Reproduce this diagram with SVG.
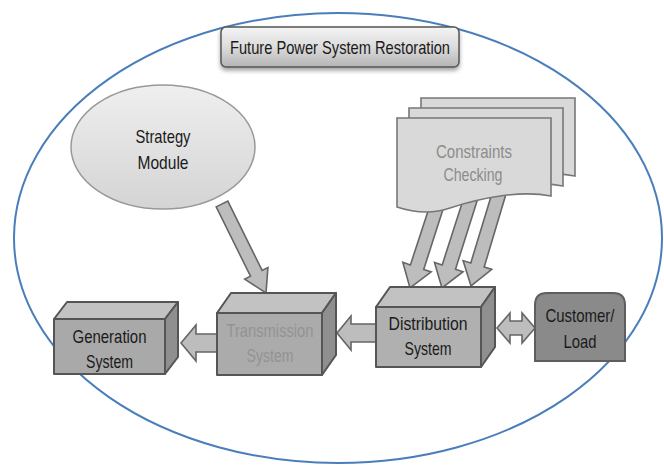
<svg xmlns="http://www.w3.org/2000/svg" width="664" height="467" viewBox="0 0 664 467">
<defs>
<linearGradient id="gTitle" x1="0" y1="0" x2="0" y2="1"><stop offset="0" stop-color="#f4f4f4"/><stop offset="0.5" stop-color="#dcdcdc"/><stop offset="1" stop-color="#b4b4b4"/></linearGradient>
<linearGradient id="gEll" x1="0" y1="0" x2="0" y2="1"><stop offset="0" stop-color="#efefef"/><stop offset="1" stop-color="#d4d4d4"/></linearGradient>
<filter id="sh" x="-10%" y="-20%" width="120%" height="160%"><feDropShadow dx="0" dy="3" stdDeviation="2" flood-color="#000" flood-opacity="0.35"/></filter>
</defs>
<style>
.t{font-family:"Liberation Sans Narrow","Liberation Sans",Arial,sans-serif;font-size:19px;text-anchor:middle;fill:#1a1a1a}
.front{fill:#a9a9a9;stroke:#555;stroke-width:2;stroke-linejoin:round}
.top{fill:#c2c2c2;stroke:#555;stroke-width:2;stroke-linejoin:round}
.side{fill:#8f8f8f;stroke:#555;stroke-width:2;stroke-linejoin:round}
.arr{fill:#bdbdbd;stroke:#666;stroke-width:1.6;stroke-linejoin:miter}
.doc{fill:#d9d9d9;stroke:#777;stroke-width:1.6}
</style>
<ellipse id="boundary" cx="338" cy="238" rx="324" ry="225" fill="none" stroke="#4a7ebb" stroke-width="2"/>
<g id="title">
<rect x="221" y="27" width="238" height="40" rx="5" fill="url(#gTitle)" stroke="#555" stroke-width="1.5" filter="url(#sh)"/>
<text class="t" x="340" y="54" textLength="220" lengthAdjust="spacingAndGlyphs">Future Power System Restoration</text>
</g>
<g id="connectors">
<polygon class="arr" points="216.2,206.9 227.8,201.1 262.1,270.4 267.9,267.5 266,293 244.7,279.1 250.5,276.2"/>
<polygon class="arr" points="446,200 423.7,269.4 431.2,271.9 410,288 402.8,262.3 410.4,264.9 433,196"/>
<polygon class="arr" points="478,198 455.5,269.2 463.1,271.7 442,288 434.5,262.4 442.2,264.9 465,194"/>
<polygon class="arr" points="506,194 484.2,267 491.8,269.4 471,286 463.1,260.6 470.8,262.9 493,190"/>
<polygon class="arr" points="376,324 351,324 351,316 337,333 351,350 351,342 376,342"/>
<polygon class="arr" points="217,334 196,334 196,325 181,343 196,361 196,352 217,352"/>
<polygon class="arr" points="497,328 510,313 510,321 522,321 522,313 535,328 522,343 522,335 510,335 510,343"/>
</g>
<g id="strategy">
<ellipse cx="163" cy="147" rx="92" ry="62" fill="url(#gEll)" stroke="#999" stroke-width="1.5"/>
<text class="t" x="163" y="143" textLength="55" lengthAdjust="spacingAndGlyphs">Strategy</text>
<text class="t" x="163" y="169" textLength="51" lengthAdjust="spacingAndGlyphs">Module</text>
</g>
<g id="constraints">
<path class="doc" transform="translate(24,-20)" d="M397,118 L551,118 L551,196 C520,190 480,198 450,208 C430,215 412,212 397,207 Z"/>
<path class="doc" transform="translate(12,-10)" d="M397,118 L551,118 L551,196 C520,190 480,198 450,208 C430,215 412,212 397,207 Z"/>
<path class="doc" d="M397,118 L551,118 L551,196 C520,190 480,198 450,208 C430,215 412,212 397,207 Z"/>
<text class="t" x="474" y="158" textLength="76" lengthAdjust="spacingAndGlyphs" style="fill:#8c8c8c">Constraints</text>
<text class="t" x="473" y="181" textLength="59" lengthAdjust="spacingAndGlyphs" style="fill:#8c8c8c">Checking</text>
</g>
<g id="generation">
<polygon class="top" points="54,319 67,302 178,302 165,319"/>
<polygon class="side" points="165,319 178,302 178,357 165,374"/>
<rect class="front" x="54" y="319" width="111" height="55"/>
<text class="t" x="109.5" y="343" textLength="74" lengthAdjust="spacingAndGlyphs">Generation</text>
<text class="t" x="109.5" y="368" textLength="47" lengthAdjust="spacingAndGlyphs">System</text>
</g>
<g id="transmission">
<polygon class="top" points="217,313 231,293 336,293 322,313"/>
<polygon class="side" points="322,313 336,293 336,355 322,375"/>
<rect class="front" x="217" y="313" width="105" height="62" style="fill:#ababab"/>
<text class="t" x="270" y="337" textLength="87" lengthAdjust="spacingAndGlyphs" style="fill:#939393">Transmission</text>
<text class="t" x="270" y="362" textLength="47" lengthAdjust="spacingAndGlyphs" style="fill:#939393">System</text>
</g>
<g id="distribution">
<polygon class="top" points="376,307 390,287 495,287 481,307"/>
<polygon class="side" points="481,307 495,287 495,347 481,367"/>
<rect class="front" x="376" y="307" width="105" height="60" style="fill:#b0b0b0"/>
<text class="t" x="428" y="330" textLength="79" lengthAdjust="spacingAndGlyphs">Distribution</text>
<text class="t" x="428" y="355" textLength="47" lengthAdjust="spacingAndGlyphs">System</text>
</g>
<g id="customer">
<path d="M535,361 L535,305 Q535,293 547,293 L613,293 Q625,293 625,305 L625,361 Z" fill="#8a8a8a" stroke="#5e5e5e" stroke-width="2"/>
<text class="t" x="580" y="322" textLength="69" lengthAdjust="spacingAndGlyphs">Customer/</text>
<text class="t" x="580" y="348" textLength="33" lengthAdjust="spacingAndGlyphs">Load</text>
</g>
</svg>
